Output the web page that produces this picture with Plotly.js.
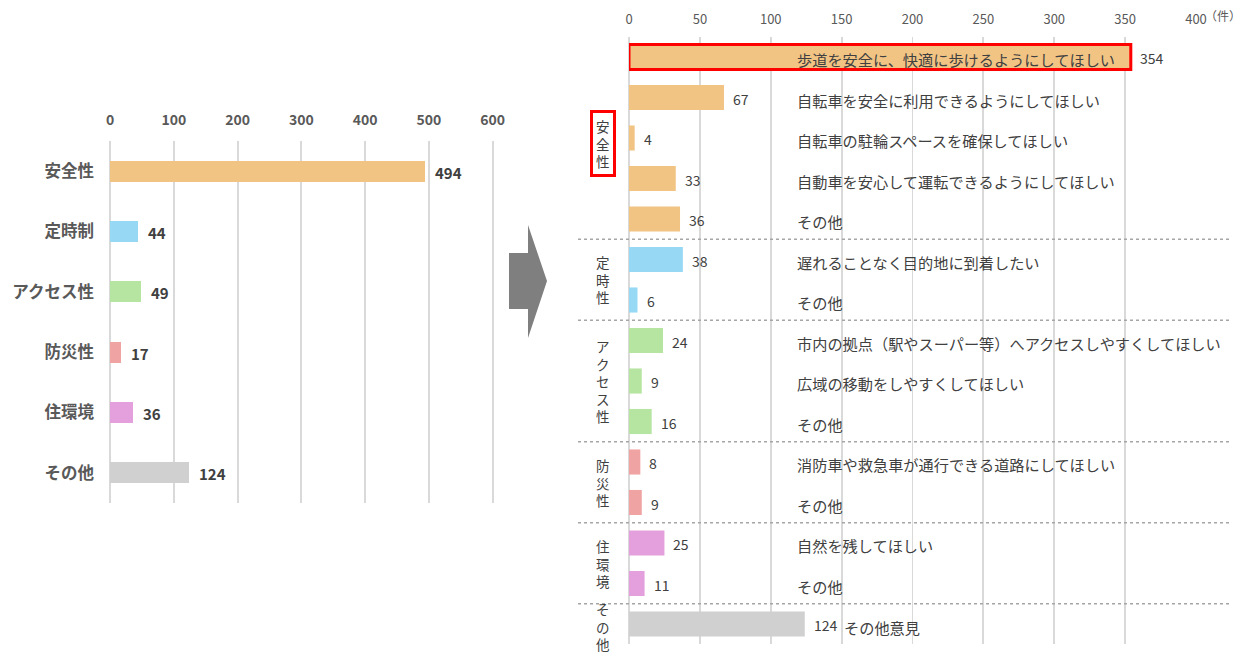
<!DOCTYPE html>
<html>
<head>
<meta charset="utf-8">
<script src="https://cdn.plot.ly/plotly-3.0.1.min.js"></script>
<style>
  html, body { margin: 0; padding: 0; background: #ffffff; }
  #chart { width: 1250px; height: 655px; }
</style>
</head>
<body>
<div id="chart"></div>
<script>
// ---------------- data ----------------
const leftCategories = ['安全性', '定時制', 'アクセス性', '防災性', '住環境', 'その他'];
const leftValues = [494, 44, 49, 17, 36, 124];
const leftTicks = [0, 100, 200, 300, 400, 500, 600];

const groupNames = ['安全性', '定時性', 'アクセス性', '防災性', '住環境', 'その他'];
const groupSizes = [5, 2, 3, 2, 2, 1];

const itemLabels = [
  '歩道を安全に、快適に歩けるようにしてほしい',
  '自転車を安全に利用できるようにしてほしい',
  '自転車の駐輪スペースを確保してほしい',
  '自動車を安心して運転できるようにしてほしい',
  'その他',
  '遅れることなく目的地に到着したい',
  'その他',
  '市内の拠点（駅やスーパー等）へアクセスしやすくしてほしい',
  '広域の移動をしやすくしてほしい',
  'その他',
  '消防車や救急車が通行できる道路にしてほしい',
  'その他',
  '自然を残してほしい',
  'その他',
  'その他意見'
];
const itemValues = [354, 67, 4, 33, 36, 38, 6, 24, 9, 16, 8, 9, 25, 11, 124];
const rightTicks = [0, 50, 100, 150, 200, 250, 300, 350, 400];
const unitLabel = '（件）';

// ---------------- style ----------------
const W = 1250, H = 655;
const groupColors = ['#F2C484', '#97D9F5', '#B6E5A2', '#F0A3A3', '#E3A0DC', '#D0D0D0'];
const FONT = '"Noto Sans CJK JP", "Noto Sans", sans-serif';
const gridColor = '#D9D9D9';
const highlightIndex = 0;
const highlightGroup = 0;
const px = x => x / W;
const py = y => 1 - y / H;

// per-item group index and colours
const itemGroup = [];
groupSizes.forEach((n, g) => { for (let k = 0; k < n; k++) itemGroup.push(g); });
const itemIdx = itemValues.map((_, i) => i);
const itemColors = itemGroup.map(g => groupColors[g]);

const traces = [
  {
    type: 'bar', orientation: 'h',
    x: leftValues, y: leftCategories,
    xaxis: 'x', yaxis: 'y',
    width: 0.35,
    marker: { color: groupColors.slice(0, leftValues.length), line: { width: 0 } },
    hoverinfo: 'x+y'
  },
  {
    type: 'bar', orientation: 'h',
    x: itemValues, y: itemIdx,
    xaxis: 'x2', yaxis: 'y2',
    width: 0.62,
    marker: {
      color: itemColors,
      line: {
        color: itemIdx.map(i => i === highlightIndex ? '#FF0000' : 'rgba(0,0,0,0)'),
        width: itemIdx.map(i => i === highlightIndex ? 3 : 0)
      }
    },
    hoverinfo: 'x'
  }
];

const annotations = [];

// left value labels
leftValues.forEach((v, i) => {
  annotations.push({
    xref: 'x', yref: 'y', x: v, y: leftCategories[i],
    xanchor: 'left', yanchor: 'middle', xshift: 8, yshift: -1,
    text: String(v), showarrow: false,
    font: { family: FONT, size: 15, color: '#404040', weight: 'bold' }
  });
});

// right value labels + item labels
const colFrac = (795 - 629) / (1196 - 629);
itemValues.forEach((v, i) => {
  annotations.push({
    xref: 'x2', yref: 'y2', x: v, y: i,
    xanchor: 'left', yanchor: 'middle', xshift: 7, yshift: -1,
    text: String(v), showarrow: false,
    font: { family: FONT, size: 14, color: '#404040' }
  });
  const colValue = colFrac * 400;
  const collides = v > colValue - 20 && v < 300;
  if (collides) {
    annotations.push({
      xref: 'x2', yref: 'y2', x: v, y: i,
      xanchor: 'left', yanchor: 'middle', xshift: 7 + String(v).length * 8 + 6, yshift: -3,
      text: itemLabels[i], showarrow: false,
      font: { family: FONT, size: 15.2, color: '#404040' }
    });
  } else {
    annotations.push({
      xref: 'x2 domain', yref: 'y2', x: colFrac, y: i,
      xanchor: 'left', yanchor: 'middle', yshift: -2,
      text: itemLabels[i], showarrow: false,
      font: { family: FONT, size: 15.2, color: '#404040' }
    });
  }
});

// group labels (vertical) and separators
const shapes = [];
let start = 0;
groupNames.forEach((name, g) => {
  const n = groupSizes[g];
  const center = start + (n - 1) / 2;
  const isLast = g === groupNames.length - 1;
  const a = {
    xref: 'paper', yref: 'y2', x: px(603), y: center,
    xanchor: 'center', yanchor: 'middle', yshift: isLast ? -2 : 0,
    text: name.split('').join('<br>'), showarrow: false,
    font: { family: FONT, size: 13.5, color: '#404040' }
  };
  if (g === highlightGroup) {
    a.bordercolor = '#FF0000';
    a.borderwidth = 3;
    a.borderpad = 3;
    a.yshift = -5;
  }
  annotations.push(a);
  start += n;
  if (!isLast) {
    shapes.push({
      type: 'line', xref: 'paper', yref: 'y2',
      x0: px(578), x1: px(1232), y0: start - 0.5, y1: start - 0.5,
      line: { color: '#A6A6A6', width: 1.5, dash: 'dot' }
    });
  }
});

// unit label
annotations.push({
  xref: 'paper', yref: 'paper', x: px(1203), y: py(16),
  xanchor: 'left', yanchor: 'middle',
  text: unitLabel, showarrow: false,
  font: { family: FONT, size: 12, color: '#595959' }
});

// arrow between the two charts
const arrowPts = [[509, 253], [528, 253], [528, 225], [547, 281], [528, 338], [528, 309], [509, 309]];
shapes.push({
  type: 'path', xref: 'paper', yref: 'paper',
  path: 'M ' + arrowPts.map(p => px(p[0]).toFixed(5) + ',' + py(p[1]).toFixed(5)).join(' L ') + ' Z',
  fillcolor: '#7F7F7F', line: { width: 0 }
});

const layout = {
  width: W, height: H,
  margin: { l: 0, r: 0, t: 0, b: 0 },
  paper_bgcolor: '#ffffff', plot_bgcolor: 'rgba(0,0,0,0)',
  showlegend: false,
  font: { family: FONT },
  xaxis: {
    domain: [px(110), px(110 + 605 * (382.7 / 600))],
    range: [0, 605], anchor: 'y', side: 'top',
    tickvals: leftTicks, ticktext: leftTicks.map(String),
    showgrid: true, gridcolor: gridColor, gridwidth: 2,
    zeroline: true, zerolinecolor: gridColor, zerolinewidth: 2,
    showline: false, ticks: '',
    ticklabelstandoff: 12,
    tickfont: { family: FONT, size: 14, color: '#595959', weight: 'bold' },
    fixedrange: true
  },
  yaxis: {
    domain: [py(503), py(141)],
    type: 'category', range: [leftCategories.length - 0.5, -0.5], anchor: 'x',
    showgrid: false, zeroline: false, showline: false, ticks: '',
    ticklabelstandoff: 15,
    tickfont: { family: FONT, size: 16.5, color: '#595959', weight: 'bold' },
    fixedrange: true
  },
  xaxis2: {
    domain: [px(629), px(1196)],
    range: [0, 400], anchor: 'y2', side: 'top',
    tickvals: rightTicks, ticktext: rightTicks.map(String),
    showgrid: true, gridcolor: gridColor, gridwidth: 1.8,
    zeroline: true, zerolinecolor: gridColor, zerolinewidth: 1.8,
    showline: false, ticks: '',
    ticklabelstandoff: 9,
    tickfont: { family: FONT, size: 13, color: '#595959' },
    fixedrange: true
  },
  yaxis2: {
    domain: [py(644.25), py(36.75)],
    range: [itemValues.length - 0.5, -0.5], anchor: 'x2',
    showgrid: false, zeroline: false, showline: false, ticks: '',
    showticklabels: false, fixedrange: true
  },
  annotations: annotations,
  shapes: shapes,
  bargap: 0
};

Plotly.newPlot('chart', traces, layout, { displayModeBar: false, staticPlot: true });
</script>
</body>
</html>
